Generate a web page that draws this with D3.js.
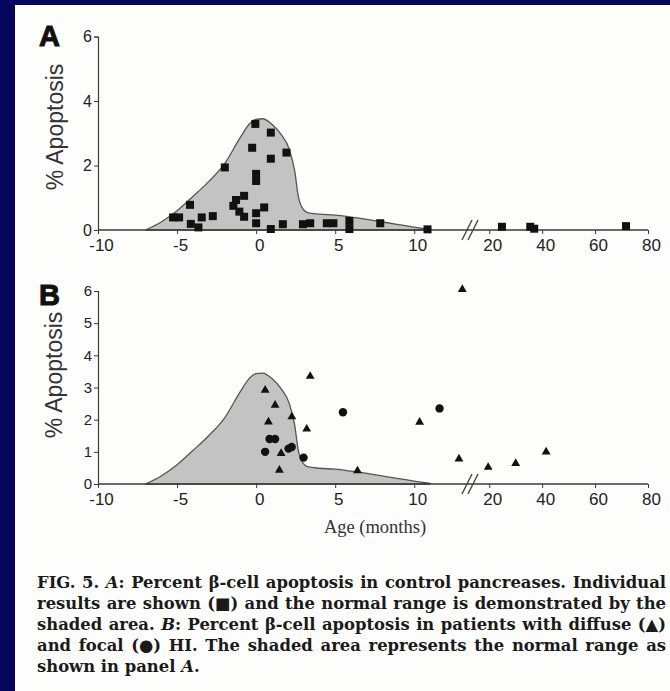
<!DOCTYPE html>
<html><head><meta charset="utf-8">
<script src="https://cdn.jsdelivr.net/npm/d3@7"></script>
<style>
html,body{margin:0;padding:0;background:#05055e;}
svg{display:block;}
</style></head>
<body>
<script>
// ---- data ----
const normalRange = [[-7,0],[-6,0.25],[-5,0.6],[-4,1.04],[-3,1.5],[-2,2.05],[-1,2.87],[-0.4,3.3],[0,3.43],[0.4,3.45],[1,3.28],[1.6,2.95],[2.1,2.5],[2.45,1.8],[2.65,1.1],[2.9,0.7],[3.3,0.53],[4,0.49],[5,0.46],[6,0.4],[7,0.33],[8,0.25],[9,0.17],[10,0.09],[11,0.02]];
const controlX = [-0.05,0.93,-0.25,1.92,0.93,-1.98,0,0,-0.76,-1.27,-1.44,-1.06,-0.76,0.51,0,0,0.93,1.69,-4.18,-5.25,-4.87,-3.44,-4.13,-3.65,-2.74,2.96,3.42,4.47,4.89,5.9,5.9,7.85,10.84,24.8,35.5,37,71.7];
const controlY = [3.29,3.02,2.55,2.40,2.21,1.94,1.74,1.52,1.06,0.93,0.75,0.57,0.41,0.70,0.52,0.21,0.03,0.18,0.78,0.39,0.39,0.39,0.19,0.08,0.43,0.18,0.21,0.21,0.21,0.28,0.03,0.21,0.02,0.1,0.1,0.04,0.12];
const diffuseX = [3.42,0.57,1.2,2.26,0.78,3.2,1.58,1.47,6.41,10.34,13.04,12.83,19.6,30,41.5];
const diffuseY = [3.35,2.92,2.45,2.09,1.93,1.71,0.95,0.43,0.41,1.92,6.05,0.78,0.52,0.64,1.0];
const focalX = [0.85,1.2,0.57,2.05,2.25,3.0,5.49,11.6];
const focalY = [1.40,1.40,1.0,1.10,1.15,0.82,2.23,2.35];
const xTicksLeft = [-10,-5,0,5,10];
const xTicksRight = [20,40,60,80];
const yTicksA = [0,2,4,6];
const yTicksB = [0,1,2,3,4,5,6];
const captionLines = [
  [["FIG. 5. ",""],["A","i"],[": Percent β-cell apoptosis in control pancreases. Individual",""]],
  [["results are shown (■) and the normal range is demonstrated by the",""]],
  [["shaded area. ",""],["B","i"],[": Percent β-cell apoptosis in patients with diffuse (▲)",""]],
  [["and focal (●) HI. The shaded area represents the normal range as",""]],
  [["shown in panel ",""],["A","i"],[".",""]]
];

const W=670,H=691;
const svg=d3.select("body").append("svg").attr("width",W).attr("height",H);
svg.append("rect").attr("x",15).attr("y",5).attr("width",W-15).attr("height",H-5).attr("fill","#fdfdfc");

const xL=d3.scaleLinear().domain([-10,13.4]).range([98,468]);
const xR=d3.scaleLinear().domain([15,80]).range([476,648]);
const fx=v=> v<=13.4 ? xL(v) : xR(v);
const axisColor="#3a3a3a";
const sans="'Liberation Sans', Arial, sans-serif";

function panel(y, yTicks, letter, letterY, ytFont, labelCx, labelCy){
  const y0=y(0);
  const g=svg.append("g");
  const area=d3.area().x(d=>fx(d[0])).y0(y0).y1(d=>y(d[1])).curve(d3.curveMonotoneX);
  g.append("path").datum(normalRange).attr("d",area).attr("fill","#c3c3c3").attr("stroke","#555").attr("stroke-width",1.3);
  const axL=d3.axisBottom(xL).tickValues(xTicksLeft).tickSize(4).tickFormat(d=>String(d));
  const axR=d3.axisBottom(xR).tickValues(xTicksRight).tickSize(4).tickFormat(d=>String(d));
  const gl=g.append("g").attr("transform",`translate(0,${y0})`).call(axL);
  const gr=g.append("g").attr("transform",`translate(0,${y0})`).call(axR);
  [gl,gr].forEach(a=>{
    a.select(".domain").remove();
    a.selectAll("line").attr("stroke",axisColor).attr("stroke-width",1);
    a.selectAll("text").attr("font-family",sans).attr("font-size",17).attr("fill","#222").attr("dx",3).attr("dy","0.85em").attr("y",7);
  });
  g.append("line").attr("x1",xL(-10)).attr("x2",xR(80)).attr("y1",y0).attr("y2",y0).attr("stroke",axisColor).attr("stroke-width",1.4);
  [467,473].forEach(bx=>{
    g.append("line").attr("x1",bx-5).attr("y1",y0+10).attr("x2",bx+5).attr("y2",y0-10).attr("stroke","#444").attr("stroke-width",1.4);
  });
  const ay=d3.axisLeft(y).tickValues(yTicks).tickSize(4).tickFormat(d=>String(d));
  const gy=g.append("g").attr("transform",`translate(${xL(-10)},0)`).call(ay);
  gy.select(".domain").attr("stroke",axisColor).attr("stroke-width",1.2);
  gy.selectAll("line").attr("stroke",axisColor);
  gy.selectAll("text").attr("font-family",sans).attr("font-size",ytFont).attr("fill","#222").attr("x",-6);
  svg.append("text").attr("x",39).attr("y",letterY).text(letter)
    .attr("font-family",sans).attr("font-weight","bold").attr("font-size",29).attr("fill","#111").attr("stroke","#111").attr("stroke-width",1);
  svg.append("text").attr("transform",`translate(${labelCx},${labelCy}) rotate(-90)`).attr("text-anchor","middle")
    .attr("font-family",sans).attr("font-size",23).attr("fill","#333").text("% Apoptosis");
  return g;
}

// Panel A
const yA=d3.scaleLinear().domain([0,6]).range([230,36.5]);
const gA=panel(yA,yTicksA,"A",46,16,63,127);
const ctrl=controlX.map((x,i)=>[x,controlY[i]]);
gA.selectAll("rect.pt").data(ctrl).join("rect").attr("class","pt")
  .attr("x",d=>fx(d[0])-4).attr("y",d=>yA(d[1])-4).attr("width",8).attr("height",8).attr("fill","#111");

// Panel B
const yB=d3.scaleLinear().domain([0,6]).range([484,291]);
const gB=panel(yB,yTicksB,"B",305,15,62,375);
const dif=diffuseX.map((x,i)=>[x,diffuseY[i]]);
const foc=focalX.map((x,i)=>[x,focalY[i]]);
const tri=d3.symbol().type(d3.symbolTriangle).size(34);
gB.selectAll("path.tri").data(dif).join("path").attr("class","tri")
  .attr("transform",d=>`translate(${fx(d[0])},${yB(d[1])})`).attr("d",tri).attr("fill","#111");
gB.selectAll("circle.foc").data(foc).join("circle").attr("class","foc")
  .attr("cx",d=>fx(d[0])).attr("cy",d=>yB(d[1])).attr("r",4.2).attr("fill","#111");

svg.append("text").attr("x",375).attr("y",533).attr("text-anchor","middle")
  .attr("font-family","'Liberation Serif', 'Times New Roman', serif").attr("font-size",18.5).attr("fill","#333").text("Age (months)");

// caption
const capX=37, capR=666, capY0=588, capDY=21;
const serif="'DejaVu Serif', serif";
const texts=captionLines.map((line,i)=>{
  const t=svg.append("text").attr("x",capX).attr("y",capY0+i*capDY)
    .attr("font-family",serif).attr("font-weight","bold").attr("font-size",16).attr("fill","#1a1a1a");
  line.forEach(seg=>{
    const ts=t.append("tspan").text(seg[0]);
    if(seg[1]==="i") ts.attr("font-style","italic");
  });
  return t;
});
const maxW=d3.max(texts.slice(0,4),t=>t.node().getComputedTextLength());
const fs=Math.min(17, 16*(capR-capX)/maxW*0.99);
texts.forEach((t,i)=>{
  t.attr("font-size",fs);
  if(i<texts.length-1){
    const w=t.node().getComputedTextLength();
    const full=captionLines[i].map(s=>s[0]).join("");
    const nSp=(full.match(/ /g)||[]).length;
    t.attr("word-spacing",Math.max(0,((capR-capX)-w)/nSp));
  }
});
</script>
</body></html>
